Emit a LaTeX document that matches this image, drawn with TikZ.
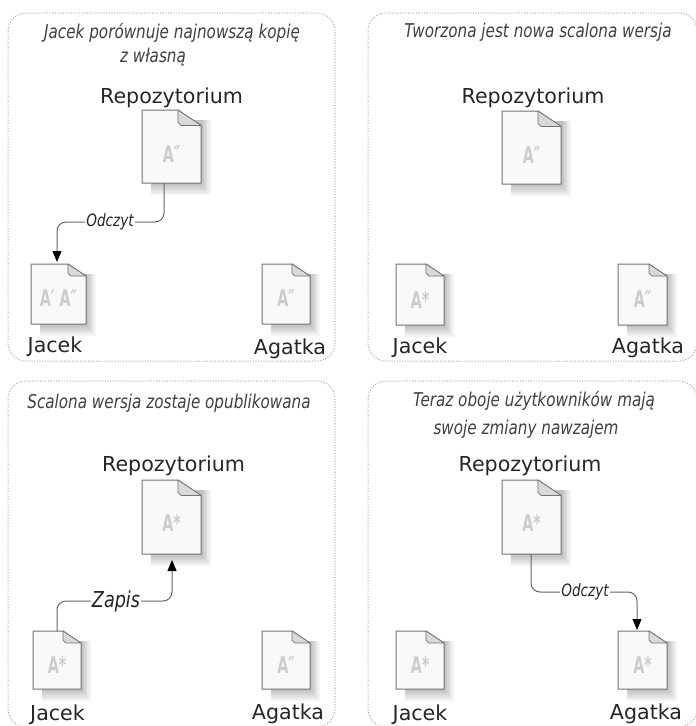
\documentclass[tikz,border=0pt]{standalone}
\usepackage{fontspec}
\setmainfont{DejaVu Sans}
\newfontfamily\ttlfont[FakeStretch=0.8]{DejaVu Sans}
\newfontfamily\docfont[FakeStretch=0.62]{DejaVu Sans}
\usetikzlibrary{arrows.meta}
\definecolor{edgegray}{gray}{0.45}
\definecolor{foldgray}{gray}{0.85}
\definecolor{docgray}{gray}{0.8}
\definecolor{pagewhite}{gray}{0.975}
\newcommand{\dblprime}{{\itshape ″}}
\newcommand{\oneprime}{{\itshape ′}}
\tikzset{
  x=1pt,y=-1pt,
  panel/.style={draw=black!35,line width=1pt,dash pattern=on 1pt off 1.7pt,rounded corners=18pt},
  reponame/.style={font=\fontsize{20.6}{21}\selectfont,text=black!85,inner sep=0pt,anchor=base},
  titletext/.style={font=\ttlfont\itshape\fontsize{19}{20}\selectfont,text=black!75,inner sep=0pt,anchor=base},
  flow/.style={draw=black!60,line width=1pt,rounded corners=9pt},
  flowarrow/.style={flow,-{Triangle[length=11pt,width=9pt,black]}},
  flowlabel/.style={font=\ttlfont\itshape\fontsize{#1}{#1}\selectfont,text=black!85,fill=white,inner xsep=1pt,inner ysep=1pt,anchor=center},
  doclabel/.style={font=\docfont\bfseries\fontsize{23}{23}\selectfont,text=docgray,inner sep=0pt},
}
% \docshape{name}{left}{top}{right}{bottom}{fold}{label}{label y shift}
\newcommand{\docshape}[8]{%
  \foreach \s in {2,4,6,8,10,12}{%
    \fill[black,opacity=0.045] (#2+9,#3+10) rectangle (#4+\s*0.8,#5+\s);
  }
  \draw[fill=pagewhite,draw=edgegray,line width=1pt,line join=round]
    (#2,#3) -- (#4-#6,#3) -- (#4,#3+#6*0.67) -- (#4,#5) -- (#2,#5) -- cycle;
  \draw[fill=foldgray,draw=edgegray,line width=0.7pt,line join=round]
    (#4-#6,#3) -- (#4,#3+#6*0.67) -- (#4-#6+3,#3+#6*0.67) -- (#4-#6,#3+#6*0.67-3) -- cycle;
  \node[doclabel] (#1) at ({(#2+#4)/2},{(#3+#5)/2+#8}) {#7};
}
\begin{document}
\begin{tikzpicture}
\useasboundingbox (0,0) rectangle (696,726);
\fill[white] (0,0) rectangle (696,726);
% panels
\draw[panel] (8,13) rectangle (335,361);
\draw[panel] (368,13) rectangle (697,361);
\draw[panel] (8,381) rectangle (335,727);
\draw[panel] (368,381) rectangle (697,727);

% panel 1
\node[titletext] (t1a) at (172,38) {Jacek porównuje najnowszą kopię};
\node[titletext] (t1b) at (153,62) {z własną};
\node[reponame] (r1) at (171.5,103) {Repozytorium};
\docshape{d1r}{142}{110}{201}{183}{23}{A\dblprime}{8}
\docshape{d1j}{31}{264}{86}{324}{18}{A\oneprime{} A\dblprime}{4}
\docshape{d1a}{262}{264}{310}{324}{18}{A\dblprime}{4}
\node[reponame] (n1j) at (55,352) {Jacek};
\node[reponame] (n1a) at (290,354) {Agatka};
\coordinate (c1s) at (164,183);
\coordinate (c1e) at (57,262);
\draw[flowarrow] (c1s) |- (57,222) -- (c1e);
\node[flowlabel=17] (l1) at (110,222) {Odczyt};

% panel 2
\node[titletext] (t2) at (538,37) {Tworzona jest nowa scalona wersja};
\node[reponame] (r2) at (533,103) {Repozytorium};
\docshape{d2r}{502}{111}{561}{184}{23}{A\dblprime}{8}
\docshape{d2j}{396}{264}{444}{325}{18}{A*}{5}
\docshape{d2a}{618}{264}{667}{325}{18}{A\dblprime}{5}
\node[reponame] (n2j) at (420,353) {Jacek};
\node[reponame] (n2a) at (648,353) {Agatka};

% panel 3
\node[titletext] (t3) at (169,408) {Scalona wersja zostaje opublikowana};
\node[reponame] (r3) at (173.5,471) {Repozytorium};
\docshape{d3r}{142}{480}{201}{554}{23}{A*}{6}
\docshape{d3j}{33}{631}{81}{689}{18}{A*}{5}
\docshape{d3a}{262}{631}{310}{689}{18}{A\dblprime}{5}
\node[reponame] (n3j) at (57.5,720) {Jacek};
\node[reponame] (n3a) at (288,719) {Agatka};
\coordinate (c3s) at (57,631);
\coordinate (c3e) at (172,560);
\draw[flowarrow] (c3s) |- (172,601) -- (c3e);
\node[flowlabel=22] (l3) at (116,601) {Zapis};

% panel 4
\node[titletext] (t4a) at (534,406) {Teraz oboje użytkowników mają};
\node[titletext] (t4b) at (526,434) {swoje zmiany nawzajem};
\node[reponame] (r4) at (530,471) {Repozytorium};
\docshape{d4r}{502}{480}{561}{554}{23}{A*}{6}
\docshape{d4j}{396}{631}{444}{689}{18}{A*}{5}
\docshape{d4a}{618}{631}{667}{689}{18}{A*}{5}
\node[reponame] (n4j) at (420,720) {Jacek};
\node[reponame] (n4a) at (646,719) {Agatka};
\coordinate (c4s) at (531,554);
\coordinate (c4e) at (637,630);
\draw[flowarrow] (c4s) |- (637,592) -- (c4e);
\node[flowlabel=17] (l4) at (585,592) {Odczyt};
\end{tikzpicture}
\end{document}
